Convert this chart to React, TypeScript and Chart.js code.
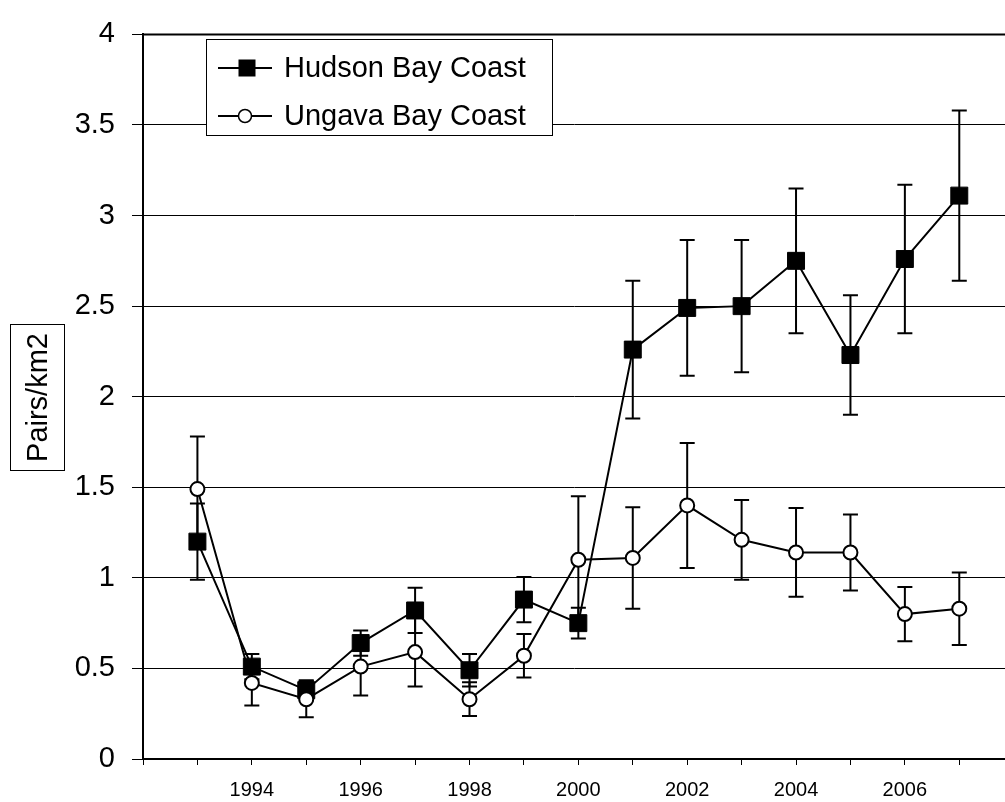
import React, { useEffect, useRef } from "react";
import { Chart, registerables } from "chart.js";

Chart.register(...registerables);

const years = [1993, 1994, 1995, 1996, 1997, 1998, 1999, 2000, 2001, 2002, 2003, 2004, 2005, 2006, 2007];
const hudson = [1.2, 0.51, 0.38, 0.64, 0.82, 0.49, 0.88, 0.75, 2.26, 2.49, 2.5, 2.75, 2.23, 2.76, 3.11];
const hudsonErr = [0.21, 0.07, 0.055, 0.07, 0.125, 0.09, 0.125, 0.085, 0.38, 0.375, 0.365, 0.4, 0.33, 0.41, 0.47];
const ungava = [1.49, 0.42, 0.33, 0.51, 0.59, 0.33, 0.57, 1.1, 1.11, 1.4, 1.21, 1.14, 1.14, 0.8, 0.83];
const ungavaErr = [0.29, 0.125, 0.1, 0.16, 0.19, 0.093, 0.12, 0.35, 0.28, 0.345, 0.22, 0.245, 0.21, 0.15, 0.2];
const xTickYears = [1992, 1993, 1994, 1995, 1996, 1997, 1998, 1999, 2000, 2001, 2002, 2003, 2004, 2005, 2006, 2007];
const xLabelYears = [1994, 1996, 1998, 2000, 2002, 2004, 2006];
const yTickValues = [0, 0.5, 1, 1.5, 2, 2.5, 3, 3.5, 4];
const seriesNames = ["Hudson Bay Coast", "Ungava Bay Coast"];
const yAxisTitle = "Pairs/km2";

const FONT = "'Liberation Sans', Arial, sans-serif";

const errorBarPlugin = {
  id: "errorBars",
  beforeDatasetsDraw(chart: any) {
    const ctx = chart.ctx;
    const xs = chart.scales.x;
    const ys = chart.scales.y;
    const sets = [
      { vals: hudson, errs: hudsonErr },
      { vals: ungava, errs: ungavaErr },
    ];
    ctx.save();
    ctx.strokeStyle = "#000";
    ctx.lineWidth = 2;
    const cap = 7.5;
    sets.forEach((s) => {
      years.forEach((yr, i) => {
        const x = xs.getPixelForValue(yr);
        const yt = ys.getPixelForValue(s.vals[i] + s.errs[i]);
        const yb = ys.getPixelForValue(s.vals[i] - s.errs[i]);
        ctx.beginPath();
        ctx.moveTo(x, yt);
        ctx.lineTo(x, yb);
        ctx.moveTo(x - cap, yt);
        ctx.lineTo(x + cap, yt);
        ctx.moveTo(x - cap, yb);
        ctx.lineTo(x + cap, yb);
        ctx.stroke();
      });
    });
    ctx.restore();
  },
};

const decorPlugin = {
  id: "decor",
  afterDraw(chart: any) {
    const ctx = chart.ctx;
    const area = chart.chartArea;
    ctx.save();
    // top border
    ctx.strokeStyle = "#000";
    ctx.lineWidth = 2;
    ctx.beginPath();
    ctx.moveTo(area.left - 1, area.top);
    ctx.lineTo(area.right, area.top);
    ctx.stroke();

    // legend
    const bx = 206.5, by = 39.5, bw = 346, bh = 96;
    ctx.fillStyle = "#fff";
    ctx.fillRect(bx, by, bw, bh);
    ctx.lineWidth = 1;
    ctx.strokeRect(bx, by, bw, bh);
    const rows = [68, 116];
    ctx.font = `29px ${FONT}`;
    ctx.textBaseline = "middle";
    ctx.textAlign = "left";
    rows.forEach((ry, i) => {
      ctx.lineWidth = 2;
      ctx.strokeStyle = "#000";
      ctx.beginPath();
      ctx.moveTo(218, ry);
      ctx.lineTo(272, ry);
      ctx.stroke();
      if (i === 0) {
        ctx.fillStyle = "#000";
        ctx.fillRect(247 - 8.5, ry - 8.5, 17, 17);
      } else {
        ctx.beginPath();
        ctx.arc(245, ry, 6.5, 0, Math.PI * 2);
        ctx.fillStyle = "#fff";
        ctx.fill();
        ctx.lineWidth = 1.5;
        ctx.stroke();
      }
      ctx.fillStyle = "#000";
      ctx.fillText(seriesNames[i], 284, ry + 1);
    });

    // y axis title in box
    const tx0 = 10.5, tx1 = 64.5, ty0 = 324.5, ty1 = 470.5;
    ctx.lineWidth = 1;
    ctx.strokeStyle = "#000";
    ctx.strokeRect(tx0, ty0, tx1 - tx0, ty1 - ty0);
    ctx.translate((tx0 + tx1) / 2, (ty0 + ty1) / 2);
    ctx.rotate(-Math.PI / 2);
    ctx.textAlign = "center";
    ctx.textBaseline = "middle";
    ctx.fillStyle = "#000";
    ctx.font = `29px ${FONT}`;
    ctx.fillText(yAxisTitle, 0, 1);
    ctx.restore();
  },
};

export default function App() {
  const ref = useRef<HTMLCanvasElement | null>(null);
  useEffect(() => {
    if (!ref.current) return;
    const chart = new Chart(ref.current, {
      type: "line",
      data: {
        datasets: [
          {
            label: seriesNames[0],
            data: years.map((y, i) => ({ x: y, y: hudson[i] })),
            borderColor: "#000",
            borderWidth: 2,
            backgroundColor: "#000",
            pointStyle: "rect",
            pointRadius: 12,
            pointBorderWidth: 1,
            pointBackgroundColor: "#000",
            pointBorderColor: "#000",
            tension: 0,
            order: 1,
          },
          {
            label: seriesNames[1],
            data: years.map((y, i) => ({ x: y, y: ungava[i] })),
            borderColor: "#000",
            borderWidth: 2,
            backgroundColor: "#fff",
            pointStyle: "circle",
            pointRadius: 7,
            pointBorderWidth: 2,
            pointBackgroundColor: "#fff",
            pointBorderColor: "#000",
            tension: 0,
            order: 0,
          },
        ],
      },
      options: {
        responsive: false,
        animation: false,
        events: [],
        layout: { autoPadding: false, padding: { top: 25, right: 0, left: 0, bottom: 0 } },
        plugins: { legend: { display: false }, tooltip: { enabled: false } },
        scales: {
          x: {
            type: "linear",
            min: 1992,
            max: 2007.84,
            afterBuildTicks: (scale: any) => {
              scale.ticks = xTickYears.map((v) => ({ value: v }));
            },
            afterFit: (scale: any) => {
              scale.height = 43;
              scale.paddingLeft = 0;
              scale.paddingRight = 0;
            },
            ticks: {
              autoSkip: false,
              maxRotation: 0,
              color: "#000",
              padding: 13,
              font: { family: FONT, size: 20 },
              callback: (v: any) => (xLabelYears.includes(Number(v)) ? String(v) : ""),
            },
            grid: {
              drawOnChartArea: false,
              drawTicks: true,
              tickLength: 6,
              color: "#000",
              lineWidth: 1,
            },
            border: { display: true, color: "#000", width: 2 },
          },
          y: {
            min: 0,
            max: 4,
            afterBuildTicks: (scale: any) => {
              scale.ticks = yTickValues.map((v) => ({ value: v }));
            },
            afterFit: (scale: any) => {
              scale.width = 143;
            },
            ticks: {
              color: "#000",
              padding: 17,
              font: { family: FONT, size: 29 },
              callback: (v: any) => String(Number(v)),
            },
            grid: {
              color: "#000",
              lineWidth: 1,
              drawTicks: true,
              tickLength: 11,
            },
            border: { display: true, color: "#000", width: 2 },
          },
        },
      },
      plugins: [errorBarPlugin, decorPlugin],
    } as any);
    return () => chart.destroy();
  }, []);

  return (
    <div style={{ position: "fixed", left: 0, top: 0, width: 1005, height: 802, background: "#fff" }}>
      <canvas ref={ref} width={1005} height={802} style={{ width: 1005, height: 802, display: "block" }} />
    </div>
  );
}
